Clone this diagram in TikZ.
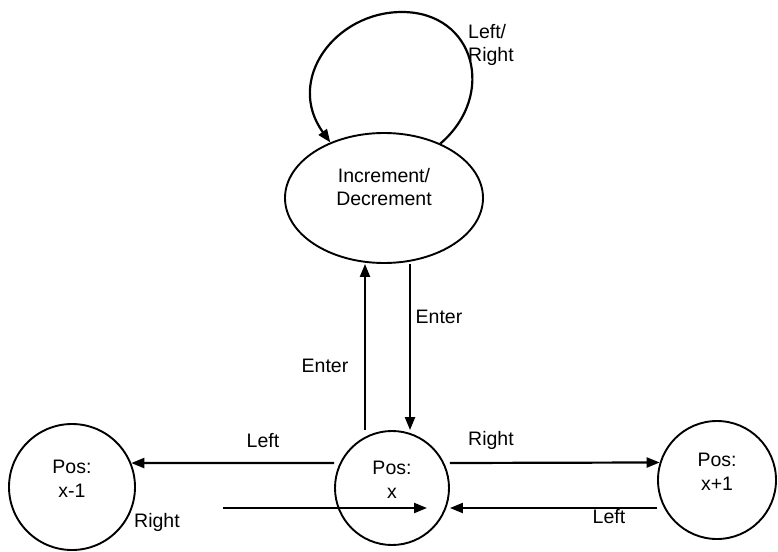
\documentclass[tikz,border=0pt]{standalone}
\usepackage{fontspec}
\setmainfont{Liberation Sans}
\usetikzlibrary{arrows.meta,shapes.geometric}
\begin{document}
\begin{tikzpicture}[x=1pt,y=-1pt,
  every node/.style={font=\fontsize{19.5}{23.5}\selectfont},
  state/.style={draw,circle,line width=1.9pt,inner sep=0pt,align=center},
  lbl/.style={inner sep=0pt,anchor=base},
  arr/.style={line width=2.2pt,-{Triangle[length=13pt,width=10pt]}}]
\useasboundingbox (0,0) rectangle (778,551);
% states
\node[draw,ellipse,line width=1.9pt,minimum width=198pt,minimum height=130pt,inner sep=0pt,align=center]
  (inc) at (384,198) {Increment/\\Decrement\rule[-22pt]{0pt}{22pt}};
\node[state,minimum size=126pt] (pm) at (72,487) {Pos:\\x-1\rule[-16pt]{0pt}{16pt}};
\node[state,minimum size=114pt] (px) at (392,488) {Pos:\\x\rule[-16pt]{0pt}{16pt}};
\node[state,minimum size=118pt] (pp) at (717,480) {Pos:\\x+1\rule[-16pt]{0pt}{16pt}};
% free coordinates
\coordinate (rs) at (223,508);
\coordinate (re) at (427,508);
% self loop
\draw[arr] (inc.44) .. controls (497,95) and (475,12) .. (402,12)
  .. controls (335,12) and (285,80) .. (inc.134);
\node[inner sep=0pt,anchor=west,align=left] (llr) at (468,45) {Left/\\Right};
% vertical transitions
\draw[arr] (px.north -| 365,0) -- (inc.south -| 365,0);
\draw[arr] (inc.south -| 410,0) -- (px.north -| 410,0);
\node[lbl] (e1) at (325,372) {Enter};
\node[lbl] (e2) at (439,323) {Enter};
% horizontal transitions
\draw[arr] (px.west |- 0,463) -- (pm.22);
\node[lbl] (l1) at (263,447) {Left};
\draw[arr] (px.east |- 0,463) -- (pp.163);
\node[lbl] (r1) at (491,445) {Right};
\draw[arr] (rs) -- (re);
\node[lbl] (r2) at (157,527) {Right};
\draw[arr] (pp.west |- 0,508) -- (px.east |- 0,508);
\node[lbl] (l2) at (609,523) {Left};
\end{tikzpicture}
\end{document}
